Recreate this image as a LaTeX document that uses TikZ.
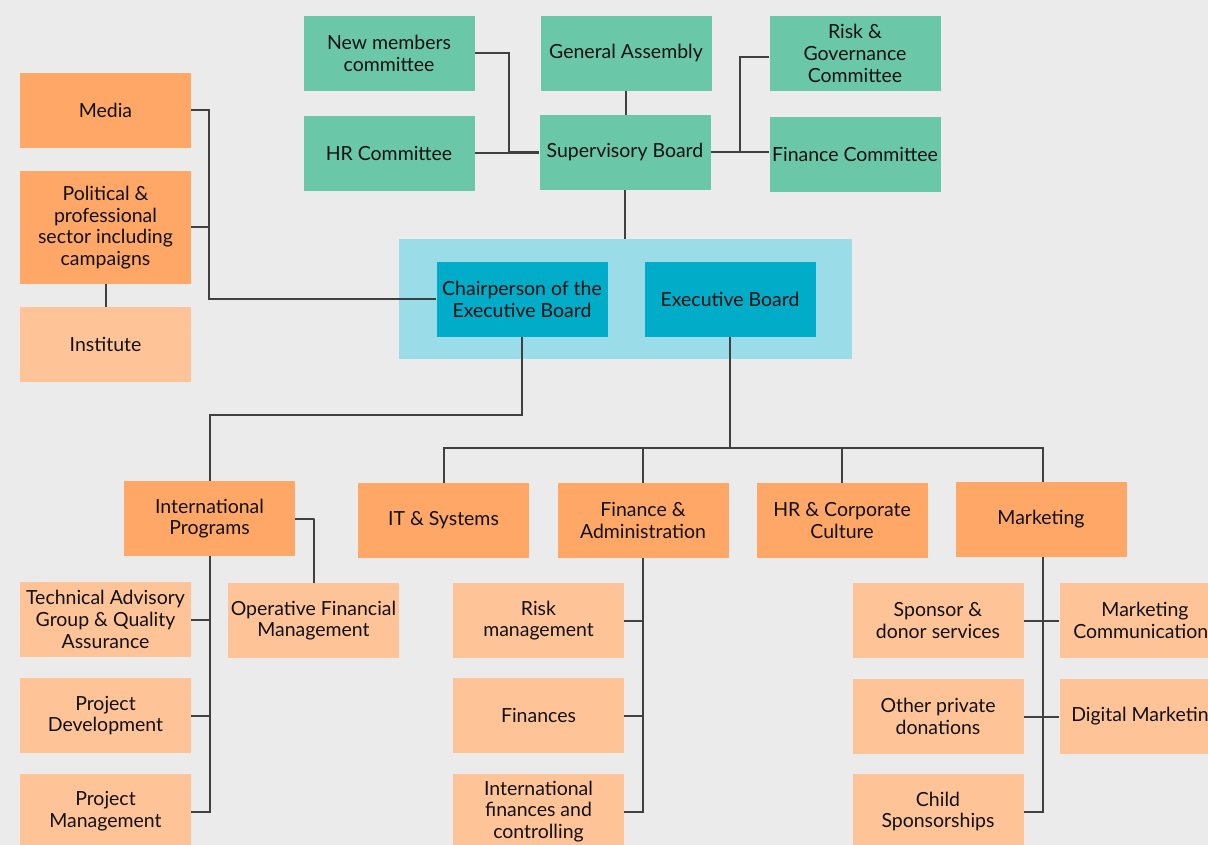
\documentclass[tikz,border=0pt]{standalone}
\usepackage{fontspec}
\setmainfont{Lato}
\usetikzlibrary{calc}
\definecolor{bgc}{HTML}{EBEBEB}
\definecolor{greenc}{HTML}{6AC8A9}
\definecolor{orangec}{HTML}{FFA766}
\definecolor{lorangec}{HTML}{FFC398}
\definecolor{tealc}{HTML}{00ACC8}
\definecolor{lbluec}{HTML}{9ADDE9}
\definecolor{linec}{HTML}{404040}
\definecolor{txtc}{HTML}{111111}
\tikzset{
  box/.style={rectangle, inner sep=1pt, align=center, text=txtc,
    minimum width=128.25pt, minimum height=56.25pt,
    font=\fontsize{14.6pt}{16.3pt}\selectfont},
  gbox/.style={box, fill=greenc},
  obox/.style={box, fill=orangec},
  lbox/.style={box, fill=lorangec},
  tbox/.style={box, fill=tealc},
  conn/.style={draw=linec, line width=1.5pt, line join=miter}
}
\begin{document}
\begin{tikzpicture}[x=0.75pt,y=-0.75pt]
\useasboundingbox (0,0) rectangle (1208,845);
\clip (0,0) rectangle (1208,845);
\fill[bgc] (0,0) rectangle (1208,845);

% governance
\node[gbox] (nm) at (389,53.5) {New members\\committee};
\node[gbox] (ga) at (626,53.5) {General Assembly};
\node[gbox] (rg) at (855,53.5) {Risk \&\\Governance\\Committee};
\node[gbox] (hrcom) at (389,153.5) {HR Committee};
\node[gbox] (sb) at (625,152.5) {Supervisory Board};
\node[gbox] (fc) at (855,154.5) {Finance Committee};

% left column
\node[obox] (media) at (105.5,110.5) {Media};
\node[obox, minimum height=84.75pt] (pol) at (105.5,227.5) {Political \&\\professional\\sector including\\campaigns};
\node[lbox] (inst) at (105.5,344.5) {Institute};

% executive
\node[fill=lbluec, minimum width=339.75pt, minimum height=90pt, inner sep=0pt] (execbg) at (625.5,299) {};
\node[tbox] (chair) at (522,299.5) {Chairperson of the\\Executive Board};
\node[tbox] (eb) at (730,299.5) {Executive Board};

% departments
\node[obox] (ip) at (209.5,518.5) {International\\Programs};
\node[obox] (it) at (443.5,520.5) {IT \& Systems};
\node[obox] (fa) at (643,520.5) {Finance \&\\Administration};
\node[obox] (hrc) at (842,520.5) {HR \& Corporate\\Culture};
\node[obox] (mk) at (1041,519.5) {Marketing};

% sub units
\node[lbox] (tag) at (105.5,619.5) {Technical Advisory\\Group \& Quality\\Assurance};
\node[lbox] (ofm) at (313.5,620.5) {Operative Financial\\Management};
\node[lbox] (pd) at (105.5,715.5) {Project\\Development};
\node[lbox] (pm) at (105.5,811.5) {Project\\Management};
\node[lbox] (rm) at (538.5,620.5) {Risk\\management};
\node[lbox] (fin) at (538.5,715.5) {Finances};
\node[lbox] (ifc) at (538.5,811.5) {International\\finances and\\controlling};
\node[lbox] (sds) at (938,620.5) {Sponsor \&\\donor services};
\node[lbox] (opd) at (938,716.5) {Other private\\donations};
\node[lbox] (cs) at (938,811.5) {Child\\Sponsorships};
\node[lbox] (mc) at (1145,620.5) {Marketing\\Communications};
\node[lbox] (dm) at (1145,716.5) {Digital Marketing};

% connectors: governance
\draw[conn] (ga.south) -- (ga.south |- sb.north);
\draw[conn] (nm.east) -- ++(34,0) |- (sb.west);
\draw[conn] (hrcom.east) -- (hrcom.east -| sb.west);
\draw[conn] (sb.east) -- (sb.east -| fc.west);
\draw[conn] ($(rg.west)+(0,3.5)$) -- ++(-29,0) |- (sb.east);
\draw[conn] (sb.south) -- (sb.south |- execbg.north);

% left column
\draw[conn] (media.east) -- ++(18,0) |- (chair.west);
\draw[conn] (pol.east) -- ++(18,0);
\draw[conn] (pol.south) -- (inst.north);

% chair to international programs
\draw[conn] (chair.south) -- ++(0,78) -| (ip.north);

% executive board bus
\coordinate (bus) at (730,448);
\draw[conn] (eb.south) -- (bus);
\draw[conn] (it.north) -- (it.north |- bus) -- ($(mk.north |- bus)+(2,0)$) -- ($(mk.north)+(2,0)$);
\draw[conn] (fa.north) -- (fa.north |- bus);
\draw[conn] (hrc.north) -- (hrc.north |- bus);

% international programs
\draw[conn] (ip.east) -- ++(19,0) -| (ofm.north);
\draw[conn] (ip.south) |- (pm.east);
\draw[conn] (tag.east) -- (tag.east -| ip.south);
\draw[conn] (pd.east) -- (pd.east -| ip.south);

% finance & administration
\draw[conn] (fa.south) |- (ifc.east);
\draw[conn] (rm.east) -- (rm.east -| fa.south);
\draw[conn] (fin.east) -- (fin.east -| fa.south);

% marketing
\draw[conn] ($(mk.south)+(2,0)$) |- (cs.east);
\draw[conn] (sds.east) -- (mc.west);
\draw[conn] (opd.east) -- (dm.west);
\end{tikzpicture}
\end{document}
